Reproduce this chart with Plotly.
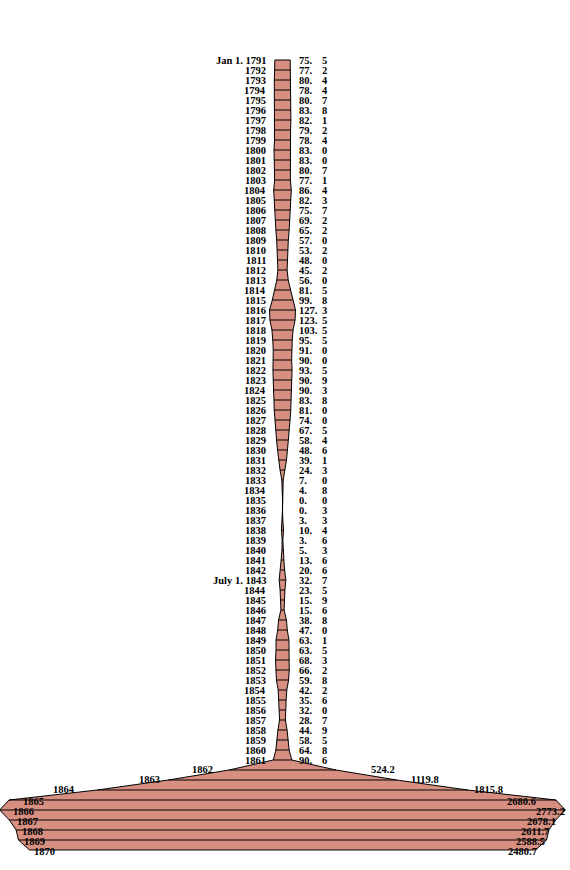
import plotly.graph_objects as go

# ---- data ----
years = list(range(1791, 1871))
debt = [75.5, 77.2, 80.4, 78.4, 80.7, 83.8, 82.1, 79.2, 78.4, 83.0,
        83.0, 80.7, 77.1, 86.4, 82.3, 75.7, 69.2, 65.2, 57.0, 53.2,
        48.0, 45.2, 56.0, 81.5, 99.8, 127.3, 123.5, 103.5, 95.5, 91.0,
        90.0, 93.5, 90.9, 90.3, 83.8, 81.0, 74.0, 67.5, 58.4, 48.6,
        39.1, 24.3, 7.0, 4.8, 0.0, 0.3, 3.3, 10.4, 3.6, 5.3,
        13.6, 20.6, 32.7, 23.5, 15.9, 15.6, 38.8, 47.0, 63.1, 63.5,
        68.3, 66.2, 59.8, 42.2, 35.6, 32.0, 28.7, 44.9, 58.5, 64.8,
        90.6, 524.2, 1119.8, 1815.8, 2680.6, 2773.2, 2678.1, 2611.7, 2588.5, 2480.7]
year_prefix = {1791: "Jan 1. ", 1843: "July 1. "}
year_labels = [year_prefix.get(y, "") + str(y) for y in years]

# ---- geometry / style ----
W, H = 570, 870
CX = 282.5          # pixel of centre line
K = 0.204           # pixels per million (full width)
FILL = "#d68f80"
FONT = dict(family="Liberation Serif, serif", size=10.5, color="black", weight="bold")

# label nudges (pixels) for the flared section
slant_left = {1862: -27, 1863: -19, 1864: -33}    # centre offset from left vertex
slant_right = {1862: 47, 1863: 28, 1864: 21}      # centre offset from right vertex
base_left = {1865: 14, 1866: 13, 1867: 8, 1868: 6, 1869: 5.5, 1870: 4.5}
base_right = {1865: -20, 1866: 0, 1867: 0, 1868: 0, 1869: -2, 1870: 1}

def px2x(p):
    return (p - CX) / K

half = [v / 2 for v in debt]
poly_x = half + [-h for h in half[::-1]] + [half[0]]
poly_y = years + years[::-1] + [years[0]]

fig = go.Figure()
fig.add_trace(go.Scatter(x=poly_x, y=poly_y, mode="lines", fill="toself",
                         fillcolor=FILL, line=dict(color="black", width=1),
                         hoverinfo="skip", showlegend=False))

lx, ly = [], []
for y, h in zip(years[1:-1], half[1:-1]):
    lx += [-h, h, None]
    ly += [y, y, None]
fig.add_trace(go.Scatter(x=lx, y=ly, mode="lines", line=dict(color="black", width=1),
                         hoverinfo="skip", showlegend=False))

ann = []
def add(text, x, y, xanchor):
    ann.append(dict(text=text, x=x, y=y, xref="x", yref="y", showarrow=False,
                    xanchor=xanchor, yanchor="middle", font=FONT,
                    borderpad=0, borderwidth=0))

for y, v, lab, h in zip(years, debt, year_labels, half):
    if y <= 1861:
        add(lab, px2x(266), y, "right")
        ip, dp = f"{v:.1f}".split(".")
        add(ip + ".", px2x(298.5), y, "left")
        add(dp, px2x(321.5), y, "left")
    elif y <= 1864:
        add(lab, -h + slant_left[y] / K, y - 0.1, "center")
        add(f"{v:.1f}", h + slant_right[y] / K, y - 0.1, "center")
    else:
        add(lab, -h + base_left[y] / K, y + 0.15, "left")
        add(f"{v:.1f}", h + base_right[y] / K, y + 0.15, "right")

fig.update_layout(
    width=W, height=H, margin=dict(l=0, r=0, t=0, b=0),
    paper_bgcolor="white", plot_bgcolor="white",
    xaxis=dict(range=[px2x(0), px2x(W)], visible=False, fixedrange=True),
    yaxis=dict(range=[1791 + (H - 60) / 10, 1791 - 60 / 10], visible=False, fixedrange=True),
    annotations=ann, showlegend=False,
)
fig.write_html("out.html")
